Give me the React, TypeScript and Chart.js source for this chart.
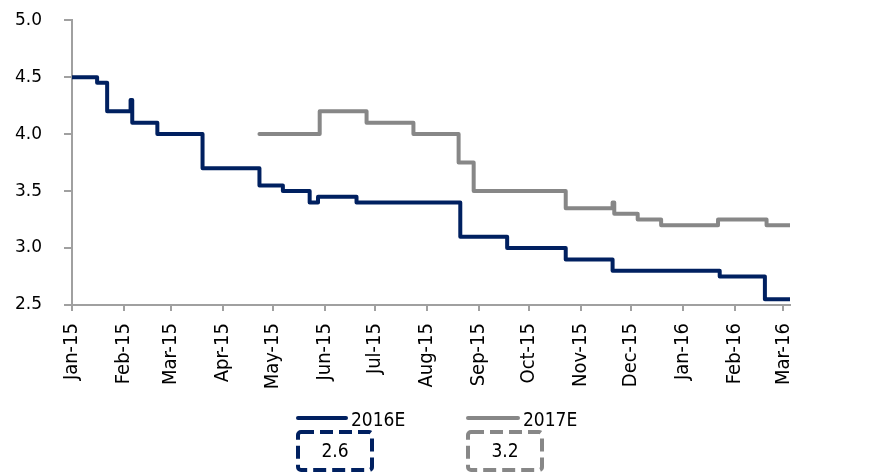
import React, { useEffect, useRef } from 'react';
import { Chart, registerables } from 'chart.js';

Chart.register(...registerables);

const seriesNames = ['2016E', '2017E'];
const seriesColors = ['#002060', '#878787'];

const dates2016E = [
  '2015-01-01', '2015-01-16', '2015-01-22', '2015-02-05', '2015-02-06', '2015-02-21',
  '2015-03-20', '2015-04-23', '2015-05-07', '2015-05-23', '2015-05-28', '2015-06-20',
  '2015-08-21', '2015-09-18', '2015-10-23', '2015-11-20', '2016-01-23', '2016-02-19',
  '2016-03-05',
];
const values2016E = [
  4.5, 4.45, 4.2, 4.3, 4.1, 4.0,
  3.7, 3.55, 3.5, 3.4, 3.45, 3.4,
  3.1, 3.0, 2.9, 2.8, 2.75, 2.55,
  2.55,
];

const dates2017E = [
  '2015-04-23', '2015-05-29', '2015-06-26', '2015-07-24', '2015-08-20', '2015-08-29',
  '2015-10-23', '2015-11-20', '2015-11-21', '2015-12-05', '2015-12-19', '2016-01-22',
  '2016-02-20', '2016-03-05',
];
const values2017E = [
  4.0, 4.2, 4.1, 4.0, 3.75, 3.5,
  3.35, 3.4, 3.3, 3.25, 3.2, 3.25,
  3.2, 3.2,
];

const tickDates = [
  '2015-01-01', '2015-02-01', '2015-03-01', '2015-04-01', '2015-05-01', '2015-06-01',
  '2015-07-01', '2015-08-01', '2015-09-01', '2015-10-01', '2015-11-01', '2015-12-01',
  '2016-01-01', '2016-02-01', '2016-03-01',
];
const tickLabels = [
  'Jan-15', 'Feb-15', 'Mar-15', 'Apr-15', 'May-15', 'Jun-15',
  'Jul-15', 'Aug-15', 'Sep-15', 'Oct-15', 'Nov-15', 'Dec-15',
  'Jan-16', 'Feb-16', 'Mar-16',
];

const boxValues = [2.6, 3.2];

const axisStart = '2015-01-01';
const axisEnd = '2016-03-05';
const yMin = 2.5;
const yMax = 5.0;
const yStep = 0.5;

const dayOf = (s: string) =>
  (Date.parse(s + 'T00:00:00Z') - Date.parse(axisStart + 'T00:00:00Z')) / 86400000;

const condensed = "'DejaVu Sans Condensed', 'Liberation Sans Narrow', 'DejaVu Sans', sans-serif";
const axisGray = '#a0a0a0';

const legendPlugin = {
  id: 'customLegendBoxes',
  afterDraw(chart: any) {
    const ctx = chart.ctx as CanvasRenderingContext2D;
    const ds = chart.data.datasets;
    const lineX = [290, 460];
    const lineW = [48, 50];
    ctx.save();
    for (let i = 0; i < ds.length; i++) {
      const color = ds[i].borderColor as string;
      ctx.strokeStyle = color;
      ctx.lineWidth = 4;
      ctx.lineCap = 'round';
      ctx.setLineDash([]);
      ctx.beginPath();
      ctx.moveTo(lineX[i], 410);
      ctx.lineTo(lineX[i] + lineW[i], 410);
      ctx.stroke();
      ctx.fillStyle = '#000';
      ctx.font = `19px ${condensed}`;
      ctx.textAlign = 'left';
      ctx.textBaseline = 'middle';
      ctx.fillText(ds[i].label, lineX[i] + lineW[i] + 5, 413);
      const bx = lineX[i];
      const by = 424;
      const bw = 74;
      const bh = 38;
      ctx.lineWidth = 4;
      ctx.lineCap = 'butt';
      ctx.setLineDash([13, 6]);
      ctx.beginPath();
      ctx.roundRect(bx, by, bw, bh, 3);
      ctx.stroke();
      ctx.setLineDash([]);
      ctx.textAlign = 'center';
      ctx.fillText(boxValues[i].toFixed(1), bx + bw / 2, by + bh / 2 + 1);
    }
    ctx.restore();
  },
};

export default function App() {
  const ref = useRef<HTMLCanvasElement | null>(null);

  useEffect(() => {
    if (!ref.current) return;
    const tickDays = tickDates.map(dayOf);
    const chart = new Chart(ref.current, {
      type: 'line',
      data: {
        datasets: [
          {
            label: seriesNames[0],
            data: dates2016E.map((d, i) => ({ x: dayOf(d), y: values2016E[i] })),
            borderColor: seriesColors[0],
            backgroundColor: seriesColors[0],
            borderWidth: 4,
            pointRadius: 0,
            stepped: true,
            borderJoinStyle: 'round',
            borderCapStyle: 'round',
            fill: false,
          },
          {
            label: seriesNames[1],
            data: dates2017E.map((d, i) => ({ x: dayOf(d), y: values2017E[i] })),
            borderColor: seriesColors[1],
            backgroundColor: seriesColors[1],
            borderWidth: 4,
            pointRadius: 0,
            stepped: true,
            borderJoinStyle: 'round',
            borderCapStyle: 'round',
            fill: false,
          },
        ],
      },
      options: {
        animation: false,
        responsive: true,
        maintainAspectRatio: false,
        layout: { padding: { left: 7, right: 81, top: 12, bottom: 0 } },
        plugins: {
          legend: { display: false },
          tooltip: { enabled: false },
        },
        scales: {
          x: {
            type: 'linear',
            min: 0,
            max: dayOf(axisEnd),
            afterBuildTicks: (s: any) => {
              s.ticks = tickDays.map((v) => ({ value: v }));
            },
            afterFit: (s: any) => {
              s.height = 171;
            },
            ticks: {
              autoSkip: false,
              maxRotation: 90,
              minRotation: 90,
              padding: 12,
              color: '#000',
              font: { family: condensed, size: 20 },
              callback: (_v: any, i: number) => tickLabels[i],
            },
            grid: {
              display: true,
              drawOnChartArea: false,
              drawTicks: true,
              tickLength: 6,
              color: axisGray,
              lineWidth: 2,
            },
            border: { display: true, color: axisGray, width: 2 },
          },
          y: {
            type: 'linear',
            min: yMin,
            max: yMax,
            afterFit: (s: any) => {
              s.width = 57;
            },
            ticks: {
              stepSize: yStep,
              padding: 2,
              crossAlign: 'far',
              color: '#000',
              font: { family: "'DejaVu Sans', Verdana, sans-serif", size: 17 },
              callback: (v: any) => Number(v).toFixed(1),
            },
            grid: {
              display: true,
              drawOnChartArea: false,
              drawTicks: true,
              tickLength: 8,
              color: axisGray,
              lineWidth: 2,
            },
            border: { display: true, color: axisGray, width: 2 },
          },
        },
      },
      plugins: [legendPlugin],
    });
    return () => chart.destroy();
  }, []);

  return (
    <div style={{ position: 'relative', width: 863, height: 468 }}>
      <canvas ref={ref} />
    </div>
  );
}
